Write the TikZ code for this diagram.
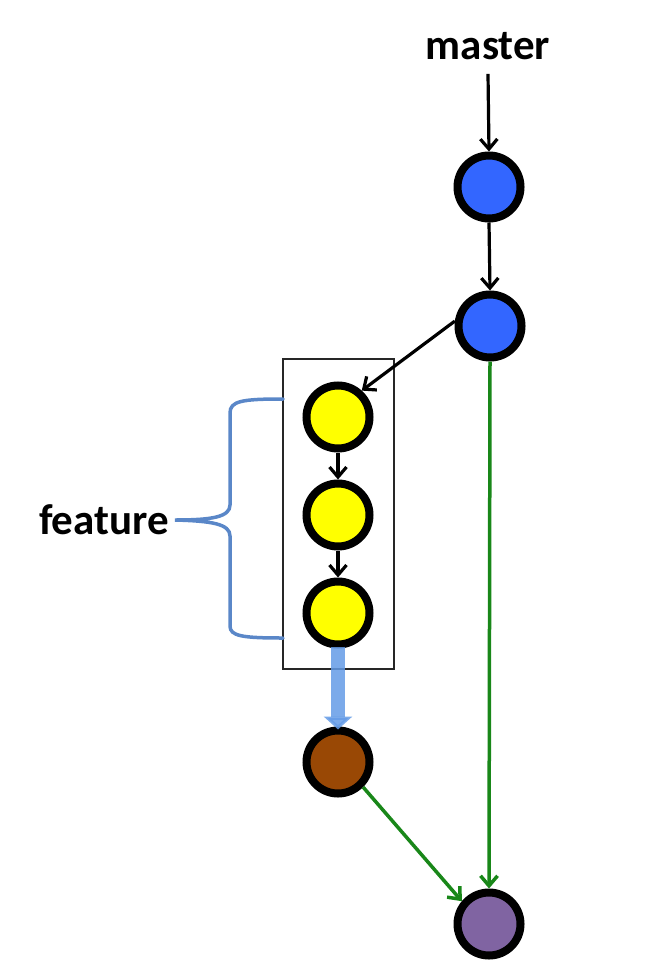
\documentclass[tikz,border=0pt]{standalone}
\usepackage{fontspec}
\setmainfont{Carlito}
\usetikzlibrary{arrows.meta}
\definecolor{cblue}{RGB}{51,102,255}
\definecolor{cyellow}{RGB}{255,255,0}
\definecolor{cbrown}{RGB}{153,72,5}
\definecolor{cpurple}{RGB}{128,100,162}
\definecolor{cgreen}{RGB}{25,135,25}
\definecolor{cbrace}{RGB}{90,135,200}
\definecolor{cthick}{RGB}{100,155,230}
\tikzset{
  commit/.style={circle, draw=black, line width=8pt, minimum size=63pt, inner sep=0pt},
  lbl/.style={font=\bfseries\fontsize{43}{50}\selectfont, inner sep=0pt},
  blk/.style={draw=black, line width=3.2pt, -{Straight Barb[length=10pt,width=17pt,line width=3.2pt]}},
  grn/.style={draw=cgreen, line width=3.5pt, -{Straight Barb[length=10pt,width=17pt,line width=3.5pt]}},
}
\begin{document}
\begin{tikzpicture}[x=1pt,y=-1pt]
\useasboundingbox (0,0) rectangle (646,968);
% box
\node[draw=black!85, line width=2pt, minimum width=111pt, minimum height=310pt, inner sep=0pt] (box) at (338.5,514) {};
% commits
\node[commit, fill=cblue] (b1) at (489,187) {};
\node[commit, fill=cblue] (b2) at (490,326) {};
\node[commit, fill=cyellow] (y1) at (338,417) {};
\node[commit, fill=cyellow] (y2) at (338,515) {};
\node[commit, fill=cyellow] (y3) at (338,613) {};
\node[commit, fill=cbrown] (br) at (338,762) {};
\node[commit, fill=cpurple] (p) at (489,924) {};
% labels
\node[lbl] (master) at (488,46) {master};
\node[lbl, anchor=east] (feat) at (169,520) {feature};
% arrows
\draw[blk] (master.south) ++(0,14) coordinate (ms) (ms) -- (b1.north);
\draw[blk] (b1.south) -- (b2.north);
\draw[blk] (b2.172) -- (y1.48);
\draw[blk] (y1.south) -- (y2.north);
\draw[blk] (y2.south) -- (y3.north);
\draw[grn] (b2.south) -- (p.north);
\draw[grn] (br.-45) -- (p.140);
% brace
\coordinate (bt) at (feat.east);
\draw[cbrace, line width=3.5pt, line cap=round]
  (283,399) .. controls (242,399) and (230,401) .. (230,413) -- (230,505)
  .. controls (230,517) and (212,520) .. ([xshift=6pt]bt)
  .. controls (212,521) and (230,524) .. (230,536) -- (230,626)
  .. controls (230,636) and (242,638) .. (283,638);
% thick merge arrow
\draw[cthick, opacity=0.85, line width=14pt, -{Triangle[length=13pt,width=28pt]}] ([yshift=2pt]y3.south) -- ([yshift=-3pt]br.north);
\end{tikzpicture}
\end{document}
